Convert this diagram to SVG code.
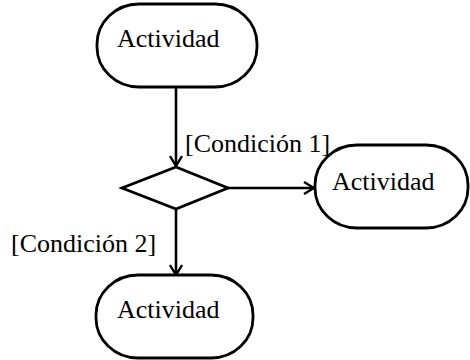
<svg xmlns="http://www.w3.org/2000/svg" width="470" height="360" viewBox="0 0 470 360">
<style>
.node{fill:#fff;stroke:#000;stroke-width:2.8}
.lbl{font-family:"Liberation Serif","Times New Roman",serif;font-size:26px;fill:#000}
.edge{fill:none;stroke:#000;stroke-width:2.6}
</style>
<defs>
<marker id="arr" markerWidth="12" markerHeight="14" refX="11" refY="7" orient="auto" markerUnits="userSpaceOnUse">
<path d="M1,1 L11,7 L1,13" fill="none" stroke="#000" stroke-width="2.4"/>
</marker>
</defs>
<rect width="470" height="360" fill="#fff"/>
<g id="connectors">
<line class="edge" x1="176" y1="87" x2="176" y2="166" marker-end="url(#arr)"/>
<line class="edge" x1="228" y1="188" x2="314" y2="188" marker-end="url(#arr)"/>
<line class="edge" x1="176" y1="209" x2="176" y2="275" marker-end="url(#arr)"/>
<text class="lbl" x="185" y="152">[Condición 1]</text>
<text class="lbl" x="11" y="252">[Condición 2]</text>
</g>
<g id="act1">
<rect class="node" x="97" y="4" width="160" height="83" rx="42" ry="40"/>
<text class="lbl" x="117" y="47">Actividad</text>
</g>
<g id="decision">
<polygon class="node" points="176,167 228,188 176,209 122,188"/>
</g>
<g id="act2">
<rect class="node" x="315" y="145" width="153" height="83" rx="42" ry="40"/>
<text class="lbl" x="332" y="190">Actividad</text>
</g>
<g id="act3">
<rect class="node" x="96" y="275" width="157" height="83" rx="42" ry="40"/>
<text class="lbl" x="117" y="318">Actividad</text>
</g>
</svg>
